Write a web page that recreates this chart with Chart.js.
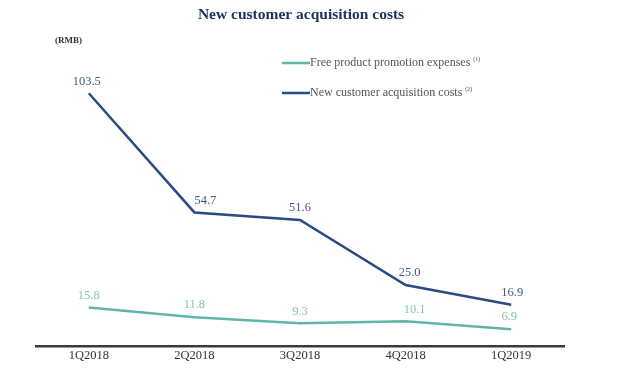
<!DOCTYPE html>
<html><head><meta charset="utf-8">
<script src="https://cdn.jsdelivr.net/npm/chart.js@4/dist/chart.umd.min.js"></script>
<style>html,body{margin:0;padding:0;background:#fff}#w{width:618px;height:376px}</style>
</head><body><div id="w"><canvas id="c" width="618" height="376"></canvas></div>
<script>
const categories = ["1Q2018","2Q2018","3Q2018","4Q2018","1Q2019"];
const freePromo = [15.8, 11.8, 9.3, 10.1, 6.9];
const acquisition = [103.5, 54.7, 51.6, 25.0, 16.9];
const seriesNames = ["Free product promotion expenses", "New customer acquisition costs"];
const seriesNotes = ["(1)", "(2)"];
const titleText = "New customer acquisition costs";
const unitText = "(RMB)";

const NAVY = "#2b4a86", TEAL = "#5fb5a8";
const SERIF = "'Liberation Serif','DejaVu Serif',serif";
// small horizontal nudges for value labels (style only)
const labelNudge = [[0, 0, 0, 9, -2], [-2, 11, 0, 4, 1]];

const overlay = {
  id: "overlay",
  afterDatasetsDraw(chart) {
    const ctx = chart.ctx;
    ctx.save();
    ctx.font = "bold 15.5px " + SERIF;
    ctx.fillStyle = "#1f3560";
    ctx.textAlign = "center"; ctx.textBaseline = "middle";
    ctx.fillText(titleText, 301, 15);
    ctx.font = "bold 9px " + SERIF;
    ctx.fillStyle = "#333";
    ctx.textAlign = "left";
    ctx.fillText(unitText, 55, 41);
    const labelColors = ["#86c2b9", "#3f5a8c"];
    chart.data.datasets.forEach((ds, i) => {
      const meta = chart.getDatasetMeta(i);
      ctx.font = "12.5px " + SERIF;
      ctx.fillStyle = labelColors[i];
      ctx.textAlign = "center"; ctx.textBaseline = "middle";
      meta.data.forEach((pt, j) => {
        ctx.fillText(ds.data[j].toFixed(1), pt.x + labelNudge[i][j], pt.y - 12);
      });
    });
    const lineCols = [TEAL, NAVY];
    const ys = [63, 93];
    ys.forEach((y, i) => {
      ctx.strokeStyle = lineCols[i]; ctx.lineWidth = 2.5;
      ctx.beginPath(); ctx.moveTo(282, y); ctx.lineTo(310, y); ctx.stroke();
      ctx.font = "12px " + SERIF;
      ctx.fillStyle = "#555";
      ctx.textAlign = "left"; ctx.textBaseline = "middle";
      ctx.fillText(seriesNames[i], 310, y);
      const w = ctx.measureText(seriesNames[i] + " ").width;
      ctx.font = "6px " + SERIF;
      ctx.fillText(seriesNotes[i], 310 + w, y - 4);
    });
    ctx.restore();
  }
};

new Chart(document.getElementById("c"), {
  type: "line",
  data: {
    labels: categories,
    datasets: [
      { label: seriesNames[0], data: freePromo, borderColor: TEAL, borderWidth: 2.5, pointRadius: 0, tension: 0, fill: false },
      { label: seriesNames[1], data: acquisition, borderColor: NAVY, borderWidth: 2.5, pointRadius: 0, tension: 0, fill: false }
    ]
  },
  options: {
    responsive: false, animation: false,
    layout: { padding: { left: 36, right: 54, top: 53, bottom: 0 } },
    plugins: { legend: { display: false }, title: { display: false }, tooltip: { enabled: false } },
    scales: {
      x: {
        offset: true,
        grid: { display: false, drawTicks: false },
        border: { display: true, color: "#3a3a3a", width: 2.5 },
        ticks: { color: "#333", font: { family: SERIF, size: 12.5 }, padding: 2, maxRotation: 0 },
        afterFit(s) { s.height = 30; }
      },
      y: { display: false, min: 0, max: 120 }
    }
  },
  plugins: [overlay]
});
</script></body></html>
